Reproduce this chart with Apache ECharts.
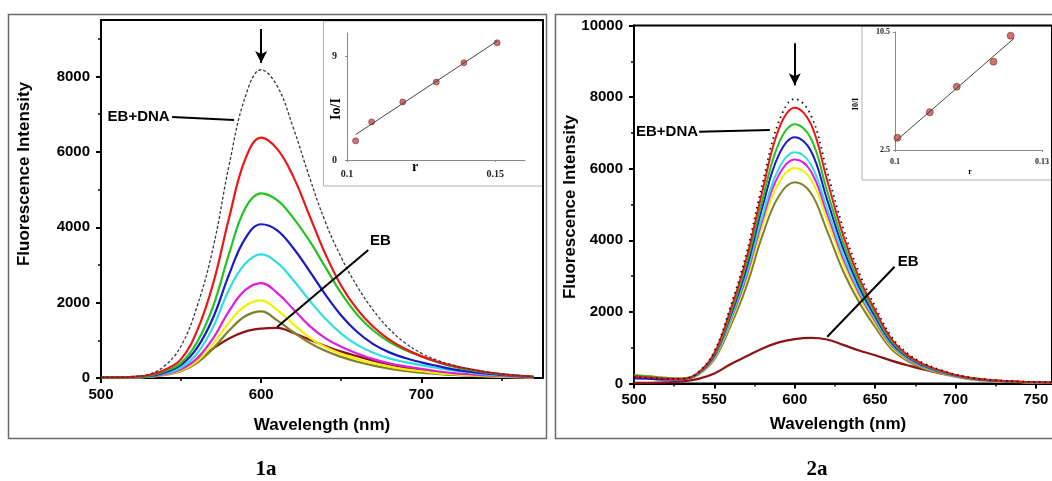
<!DOCTYPE html>
<html>
<head>
<meta charset="utf-8">
<script src="https://cdn.jsdelivr.net/npm/echarts@6/dist/echarts.min.js"></script>
<style>
  html, body { margin: 0; padding: 0; background: #fff; }
  #chart { width: 1052px; height: 481px; }
</style>
</head>
<body>
<div id="chart"></div>
<script>
// ---- Panel 1a: EB-DNA emission spectra (wavelength, nm) ----
const wl1 = [500,510,520,530,540,550,560,570,580,590,600,610,620,630,640,650,660,670,680,690,700,710,720,730,740,750,760,770];
const dna1    = [20,20,40,100,330,850,1900,3450,5650,7450,8180,7750,6650,5350,4150,3200,2430,1800,1300,930,660,470,340,240,165,110,70,40];
const red1    = [15,15,30,80,220,500,1250,2500,4250,5800,6380,6080,5350,4330,3300,2450,1820,1360,1020,770,580,430,320,235,160,105,65,35];
const green1  = [10,10,25,60,180,400,950,1900,3300,4500,4900,4720,4250,3650,2950,2250,1680,1260,960,740,570,420,300,215,150,100,65,30];
const blue1   = [10,10,20,50,150,350,800,1600,2750,3700,4080,3920,3450,2850,2220,1660,1220,900,680,530,415,320,230,170,120,80,50,25];
const cyan1   = [10,10,20,45,120,280,650,1350,2350,3030,3280,3060,2600,2070,1580,1180,880,670,520,420,340,265,200,150,100,70,45,20];
const magenta1= [10,10,15,40,100,230,520,1050,1780,2330,2520,2260,1830,1390,1060,830,650,500,390,310,240,180,130,100,70,50,35,15];
const yellow1 = [10,10,15,35,90,200,450,900,1480,1910,2060,1810,1430,1080,820,640,500,390,300,230,180,130,100,70,50,35,25,10];
const olive1  = [10,10,15,30,80,180,400,780,1260,1640,1770,1530,1220,940,720,560,430,330,250,190,140,110,80,60,45,30,20,10];
const eb1     = [10,10,20,40,100,230,480,780,1050,1230,1310,1330,1200,1020,850,700,580,460,360,275,205,150,110,80,55,40,25,10];

// ---- Panel 2a ----
const wl2 = [500,510,520,530,540,550,560,570,580,590,600,610,620,630,640,650,660,670,680,690,700,710,720,730,740,750,760];
const dna2    = [180,150,130,130,320,900,2150,3650,5600,7300,7950,7500,5950,4350,3100,2150,1320,850,570,390,250,160,110,75,55,40,30];
const red2    = [200,170,140,130,300,850,2050,3500,5400,7100,7700,7250,5700,4150,2950,2040,1250,800,540,370,240,150,100,70,50,40,30];
const green2  = [240,200,160,140,290,820,1950,3350,5150,6700,7240,6850,5400,3950,2820,1950,1200,770,520,350,230,145,95,65,45,35,25];
const blue2   = [150,130,110,120,280,790,1880,3220,4950,6380,6880,6500,5150,3780,2700,1870,1150,740,500,340,220,140,90,60,45,35,25];
const cyan2   = [160,140,115,120,270,760,1800,3080,4700,6000,6460,6120,4900,3600,2580,1790,1100,710,480,325,210,135,85,60,40,30,25];
const magenta2= [150,130,110,115,265,740,1760,3000,4580,5820,6260,5930,4760,3500,2510,1740,1070,690,465,315,205,130,85,55,40,30,20];
const yellow2 = [230,200,160,140,260,720,1700,2900,4420,5600,6020,5700,4580,3370,2420,1680,1030,670,450,305,200,125,80,55,40,30,20];
const olive2  = [200,170,140,130,250,680,1600,2720,4150,5230,5620,5320,4280,3150,2270,1580,970,630,420,285,185,115,75,50,35,25,20];
const eb2     = [20,20,30,60,130,280,540,760,980,1150,1240,1272,1230,1080,920,790,640,510,390,290,215,150,105,70,45,30,20];

// ---- Insets: Io/I versus r ----
const r1 = [0.1029, 0.1083, 0.1188, 0.1301, 0.1394, 0.1506];
const ratio1 = [1.66, 3.30, 5.03, 6.75, 8.42, 10.15];
const fitR1 = [0.1029, 0.1506];
const fitRatio1 = [2.2, 10.3];
const r2 = [0.1005, 0.1071, 0.1126, 0.1201, 0.1236];
const ratio2 = [3.33, 5.06, 6.79, 8.49, 10.25];
const fitR2 = [0.1, 0.1243];
const fitRatio2 = [3.06, 10.07];

// ---- Tick values ----
const xMajor1 = [500, 600, 700];
const xMinor1 = [550, 650, 750];
const yMajor1 = [0, 2000, 4000, 6000, 8000];
const yMinor1 = [1000, 3000, 5000, 7000, 9000];
const xMajor2 = [500, 550, 600, 650, 700, 750];
const xMinor2 = [525, 575, 625, 675, 725];
const yMajor2 = [0, 2000, 4000, 6000, 8000, 10000];
const yMinor2 = [1000, 3000, 5000, 7000, 9000];
const insetX1 = [0.1, 0.15];
const insetY1 = [0, 9];
const insetX2 = [0.1, 0.13];
const insetY2 = [2.5, 10.5];

const SANS = 'Liberation Sans, Arial, sans-serif';
const SERIF = 'Liberation Serif, Times New Roman, serif';
const plain = v => String(v);

const pairs = (xs, ys) => xs.map((x, i) => [x, ys[i]]);

function mainAxis(grid, min, max, major, minor, isX) {
  const pos = isX ? 'bottom' : 'left';
  return [
    {
      type: 'value', gridIndex: grid, min, max, position: pos,
      axisLine: { show: true, onZero: false, lineStyle: { color: '#000', width: 2 } },
      axisTick: { show: true, customValues: major, length: 5, lineStyle: { color: '#000', width: 2 } },
      axisLabel: { customValues: major, formatter: plain, color: '#000', fontFamily: SANS, fontWeight: 'bold', fontSize: 15, margin: isX ? 9 : 11 },
      splitLine: { show: false }
    },
    {
      type: 'value', gridIndex: grid, min, max, position: pos, offset: 0,
      axisLine: { show: false },
      axisTick: { show: true, customValues: minor, length: 3, lineStyle: { color: '#000', width: 1.5 } },
      axisLabel: { show: false },
      splitLine: { show: false }
    }
  ];
}

function insetAxis(grid, min, max, vals, isX, fs, margin) {
  return {
    type: 'value', gridIndex: grid, min, max, position: isX ? 'bottom' : 'left',
    axisLine: { show: true, onZero: false, lineStyle: { color: '#888', width: 1 } },
    axisTick: { show: true, customValues: vals, length: 2, lineStyle: { color: '#888' } },
    axisLabel: { customValues: vals, formatter: plain, color: '#222', fontFamily: SERIF, fontWeight: 'bold', fontSize: fs, margin },
    splitLine: { show: false }
  };
}

function curve(name, xs, ys, color, width, axis, dash) {
  return {
    name, type: 'line', xAxisIndex: axis, yAxisIndex: axis,
    data: pairs(xs, ys), showSymbol: false, smooth: 0.4,
    lineStyle: { color, width, type: dash || 'solid' },
    silent: true
  };
}

const annotStyle = { color: '#000', width: 2, type: 'solid' };
const labelBase = { show: true, color: '#000', fontFamily: SANS, fontWeight: 'bold', fontSize: 15 };

function annotations(dnaText, dnaLine, ebText, ebLine, arrow) {
  return {
    markLine: {
      silent: true, symbol: ['none', 'none'], label: { show: false },
      lineStyle: annotStyle, animation: false,
      data: [
        [{ coord: dnaLine[0] }, { coord: dnaLine[1] }],
        [{ coord: ebLine[0] }, { coord: ebLine[1] }],
        [{ coord: arrow[0] }, { coord: arrow[1], symbol: 'arrow', symbolSize: [9, 12] }]
      ]
    },
    markPoint: {
      silent: true, symbol: 'circle', symbolSize: 0, animation: false,
      itemStyle: { color: 'rgba(0,0,0,0)' },
      data: [
        { coord: dnaText, value: 0, label: Object.assign({ formatter: 'EB+DNA', position: 'left', distance: 1 }, labelBase) },
        { coord: ebText, value: 0, label: Object.assign({ formatter: 'EB', position: 'right', distance: 0 }, labelBase) }
      ]
    }
  };
}

const xAxes = [].concat(
  mainAxis(0, 500, 776, xMajor1, xMinor1, true),
  [insetAxis(1, 0.1, 0.16, insetX1, true, 10, 9)],
  mainAxis(2, 500, 760, xMajor2, xMinor2, true),
  [insetAxis(3, 0.1, 0.13, insetX2, true, 8, 8)]
);
const yAxes = [].concat(
  mainAxis(0, 0, 9500, yMajor1, yMinor1, false),
  [insetAxis(1, 0, 11, insetY1, false, 10, 10)],
  mainAxis(2, 0, 10000, yMajor2, yMinor2, false),
  [insetAxis(3, 2.5, 10.5, insetY2, false, 8, 5)]
);

// axis indices: 0 panel-1 main, 2 panel-1 inset, 3 panel-2 main, 5 panel-2 inset
const P1 = 0, I1 = 2, P2 = 3, I2 = 5;

const ebSeries1 = Object.assign(
  curve('EB', wl1, eb1, '#8b1515', 2.2, P1),
  annotations([543.5, 6924], [[544.4, 6924], [583.1, 6845]], [668, 3635], [[666.9, 3396], [610, 1353]], [[600, 9259], [600, 8357]])
);
const ebSeries2 = Object.assign(
  curve('EB', wl2, eb2, '#8b1515', 2.2, P2),
  annotations([540.5, 7033], [[540.5, 7033], [584.5, 7080]], [664, 3402], [[662.1, 3262], [620.2, 1307]], [[600, 9502], [600, 8331]])
);

const series = [
  ebSeries1,
  curve('olive', wl1, olive1, '#7f7f2a', 2.2, P1),
  curve('yellow', wl1, yellow1, '#f2f200', 2.2, P1),
  curve('magenta', wl1, magenta1, '#e01ee0', 2.2, P1),
  curve('cyan', wl1, cyan1, '#30dede', 2.2, P1),
  curve('blue', wl1, blue1, '#1a1ac8', 2.2, P1),
  curve('green', wl1, green1, '#22c422', 2.2, P1),
  curve('red', wl1, red1, '#f01414', 2.2, P1),
  curve('EB+DNA', wl1, dna1, '#3a3a3a', 1.3, P1, [3, 2]),

  ebSeries2,
  curve('olive', wl2, olive2, '#7f7f2a', 2, P2),
  curve('yellow', wl2, yellow2, '#f2f200', 2, P2),
  curve('magenta', wl2, magenta2, '#e01ee0', 2, P2),
  curve('cyan', wl2, cyan2, '#30dede', 2, P2),
  curve('blue', wl2, blue2, '#1a1ac8', 2, P2),
  curve('green', wl2, green2, '#22c422', 2, P2),
  curve('red', wl2, red2, '#f01414', 2, P2),
  curve('EB+DNA', wl2, dna2, '#111', 1.8, P2, [1.5, 4]),

  {
    type: 'line', xAxisIndex: I1, yAxisIndex: I1, data: pairs(fitR1, fitRatio1),
    showSymbol: false, lineStyle: { color: '#444', width: 1 }, silent: true
  },
  {
    type: 'scatter', xAxisIndex: I1, yAxisIndex: I1, data: pairs(r1, ratio1),
    symbolSize: 6, itemStyle: { color: '#c4504a', borderColor: '#7a3030', borderWidth: 0.8 }, silent: true
  },
  {
    type: 'line', xAxisIndex: I2, yAxisIndex: I2, data: pairs(fitR2, fitRatio2),
    showSymbol: false, lineStyle: { color: '#444', width: 1 }, silent: true
  },
  {
    type: 'scatter', xAxisIndex: I2, yAxisIndex: I2, data: pairs(r2, ratio2),
    symbolSize: 7, itemStyle: { color: '#c4504a', borderColor: '#7a3030', borderWidth: 0.8 }, silent: true
  }
];

function txt(text, x, y, font, rot) {
  return {
    type: 'text', x, y, rotation: rot || 0, silent: true, z: 10,
    style: { text, x: 0, y: 0, font, fill: '#000', textAlign: 'center', textVerticalAlign: 'middle' }
  };
}
function box(x, y, w, h, stroke, lw) {
  return {
    type: 'rect', silent: true, z: -1,
    shape: { x, y, width: w, height: h },
    style: { fill: 'none', stroke, lineWidth: lw }
  };
}

const graphic = [
  box(8.5, 14.5, 538, 424, '#6a6a6a', 1.5),
  box(555.5, 14.5, 520, 424, '#6a6a6a', 1.5),
  box(323.5, 21, 219, 165, '#b0b0b0', 1),
  box(862, 26, 200, 154, '#b0b0b0', 1),
  txt('Fluorescence Intensity', 24, 174, 'bold 17px ' + SANS, Math.PI / 2),
  txt('Wavelength (nm)', 322, 425, 'bold 17px ' + SANS),
  txt('Fluorescence Intensity', 570, 207, 'bold 17px ' + SANS, Math.PI / 2),
  txt('Wavelength (nm)', 838, 424, 'bold 17px ' + SANS),
  txt('Io/I', 336, 109, 'bold 14px ' + SERIF, Math.PI / 2),
  txt('r', 415, 167, 'bold 14px ' + SERIF),
  txt('I0/I', 856, 104, 'bold 8px ' + SERIF, Math.PI / 2),
  txt('r', 970, 172, 'bold 8px ' + SERIF),
  txt('1a', 266, 470, 'bold 21px ' + SERIF),
  txt('2a', 817, 470, 'bold 21px ' + SERIF)
];

const chart = echarts.init(document.getElementById('chart'), null, { renderer: 'canvas' });
chart.setOption({
  animation: false,
  backgroundColor: '#fff',
  grid: [
    { left: 101, top: 20, width: 442, height: 358, show: true, borderColor: '#000', borderWidth: 2, backgroundColor: 'transparent' },
    { left: 347, top: 33, width: 178, height: 127 },
    { left: 634, top: 25.5, width: 424, height: 358, show: true, borderColor: '#000', borderWidth: 2, backgroundColor: 'transparent' },
    { left: 895, top: 32, width: 148, height: 118 }
  ],
  xAxis: xAxes,
  yAxis: yAxes,
  series,
  graphic
});
</script>
</body>
</html>
